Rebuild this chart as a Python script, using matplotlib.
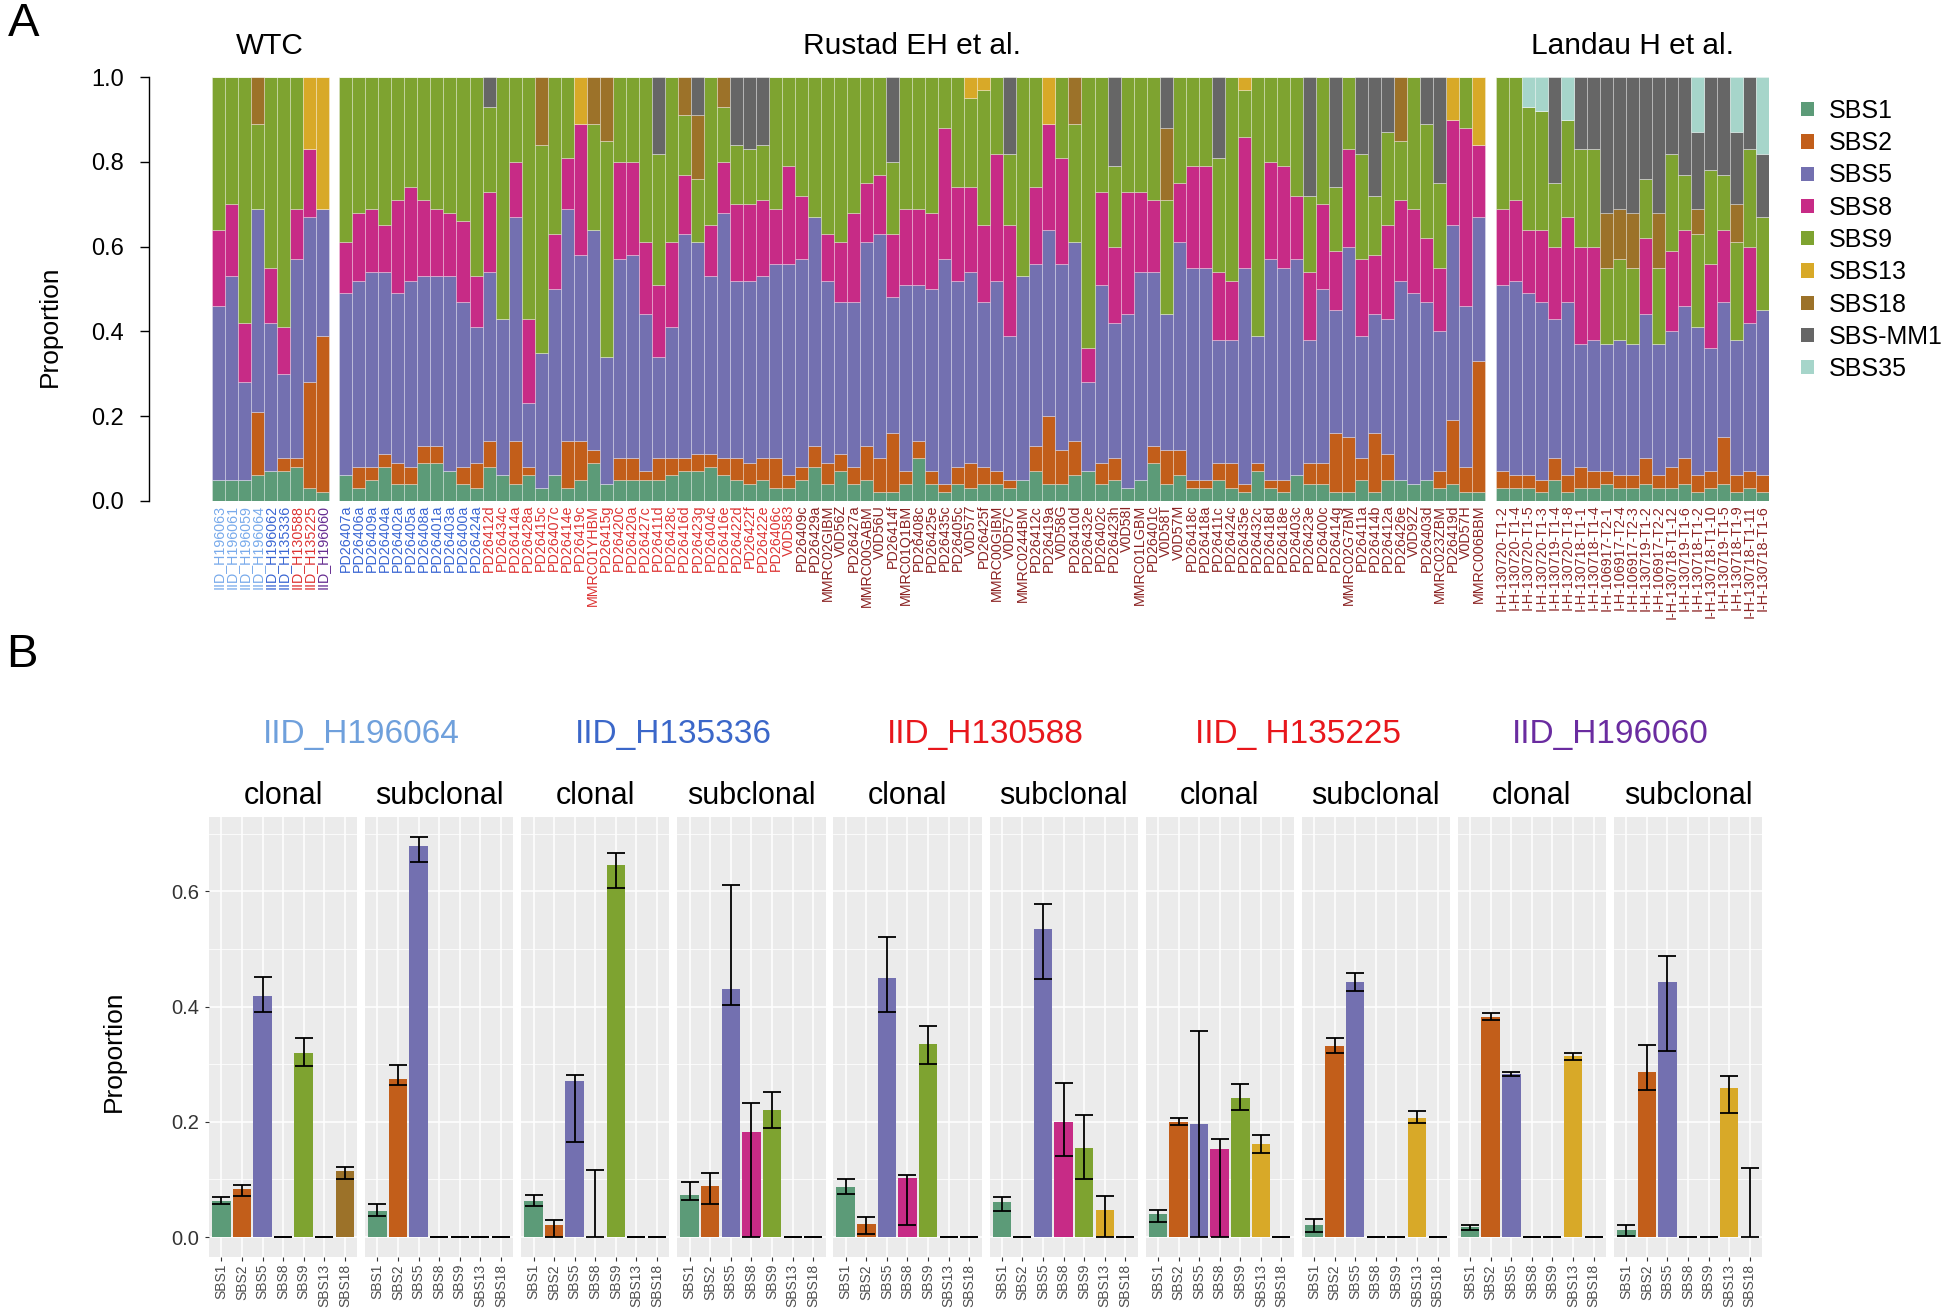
import matplotlib.pyplot as plt
import matplotlib.transforms as mtransforms
from matplotlib.patches import Patch
import numpy as np

plt.rcParams['font.family'] = ['Liberation Sans', 'DejaVu Sans']

W, H = 1950, 1313

sig_names = ['SBS1', 'SBS2', 'SBS5', 'SBS8', 'SBS9', 'SBS13', 'SBS18', 'SBS-MM1', 'SBS35']
sig_colors = ['#5C9B78', '#C25E1A', '#7370B0', '#C72B86', '#7EA330',
              '#D8A928', '#9C7229', '#666666', '#A6D5CA']

# ---------------- panel A data ----------------
wtc_samples = ['IID_H196063', 'IID_H196061', 'IID_H196059', 'IID_H196064', 'IID_H196062',
               'IID_H135336', 'IID_H130588', 'IID_H135225', 'IID_H196060']
rustad_samples = [
    'PD26407a', 'PD26406a', 'PD26409a', 'PD26404a', 'PD26402a', 'PD26405a', 'PD26408a',
    'PD26401a', 'PD26403a', 'PD26400a', 'PD26424a',
    'PD26412d', 'PD26434c', 'PD26414a', 'PD26428a', 'PD26415c', 'PD26407c', 'PD26414e',
    'PD26419c', 'MMRC01YHBM', 'PD26415g', 'PD26420c', 'PD26420a', 'PD26427c', 'PD26411d',
    'PD26428c', 'PD26416d', 'PD26423g', 'PD26404c', 'PD26416e', 'PD26422d', 'PD26422f',
    'PD26422e', 'PD26406c', 'V0D583',
    'PD26409c', 'PD26429a', 'MMRC02GIBM', 'V0D56Z', 'PD26427a', 'MMRC00GABM', 'V0D56U',
    'PD26414f', 'MMRC01Q1BM', 'PD26408c', 'PD26425e', 'PD26435c', 'PD26405c', 'V0D577',
    'PD26425f', 'MMRC00GIBM', 'V0D57C', 'MMRC0244BM', 'PD26412c', 'PD26419a', 'V0D58G',
    'PD26410d', 'PD26432e', 'PD26402c', 'PD26423h', 'V0D58I', 'MMRC01LGBM', 'PD26401c',
    'V0D58T', 'V0D57M', 'PD26418c', 'PD26418a', 'PD26411c', 'PD26424c', 'PD26435e',
    'PD26432c', 'PD26418d', 'PD26418e', 'PD26403c', 'PD26423e', 'PD26400c', 'PD26414g',
    'MMRC02G7BM', 'PD26411a', 'PD26414b', 'PD26412a', 'PD26426e', 'V0D92Z', 'PD26403d',
    'MMRC023ZBM', 'PD26419d', 'V0D57H', 'MMRC006BBM']
landau_samples = [
    'I-H-130720-T1-2', 'I-H-130720-T1-4', 'I-H-130720-T1-5', 'I-H-130720-T1-3',
    'I-H-130719-T1-4', 'I-H-130720-T1-8', 'I-H-130718-T1-1', 'I-H-130718-T1-4',
    'I-H-106917-T2-1', 'I-H-106917-T2-4', 'I-H-106917-T2-3', 'I-H-130719-T1-2',
    'I-H-106917-T2-2', 'I-H-130718-T1-12', 'I-H-130719-T1-6', 'I-H-130718-T1-2',
    'I-H-130718-T1-10', 'I-H-130719-T1-5', 'I-H-130718-T1-9', 'I-H-130718-T1-11',
    'I-H-130718-T1-6']

# proportions per signature: 9 WTC, 88 Rustad, 21 Landau
sbs1 = [.05, .05, .05, .06, .07, .07, .08, .03, .02,
        .06, .03, .05, .08, .04, .04, .09, .09, .07, .04,
        .03, .08, .06, .04, .06, .03, .06, .03, .05, .09,
        .04, .05, .05, .05, .05, .06, .07, .07, .08, .06,
        .05, .04, .05, .03, .03, .05, .08, .04, .07, .04,
        .05, .02, .02, .04, .10, .04, .02, .04, .03, .04,
        .04, .03, .05, .07, .04, .04, .06, .07, .04, .05,
        .03, .05, .09, .04, .06, .03, .03, .05, .03, .02,
        .07, .03, .02, .06, .04, .04, .02, .02, .05, .02,
        .05, .05, .04, .05, .03, .04, .02, .02,
        .03, .03, .03, .02, .05, .02, .03, .03, .04, .03,
        .03, .04, .03, .03, .04, .02, .03, .04, .02, .03, .02]
sbs2 = [0, 0, 0, .15, 0, .03, .02, .25, .37,
        0, .05, .03, .03, .05, .04, .04, .04, 0, .04,
        .06, .06, 0, .10, .02, 0, 0, .11, .09, .03,
        0, .05, .05, .02, .05, .04, .03, .04, .03, .04,
        .05, .05, .05, .07, .03, .03, .05, .05, .04, .04,
        .08, .08, .14, .03, .04, .03, .02, .04, .06, .04,
        .03, .02, 0, .06, .16, .08, .08, 0, .05, .05,
        0, 0, .04, .08, .06, .02, .02, .04, .06, .02,
        .02, .02, .03, 0, .05, .05, .14, .13, .05, .14,
        .06, 0, 0, 0, .04, .15, .06, .31,
        .04, .03, .03, .03, .05, .04, .05, .04, .03, .03,
        .03, .06, .03, .05, .06, .04, .04, .11, .04, .04, .04]
sbs5 = [.41, .48, .23, .48, .35, .20, .47, .39, .30,
        .43, .44, .46, .43, .40, .44, .40, .40, .46, .39,
        .32, .40, .37, .53, .15, .32, .44, .55, .44, .52,
        .30, .47, .48, .37, .24, .31, .53, .50, .42, .58,
        .42, .43, .43, .46, .50, .49, .54, .43, .36, .39,
        .48, .53, .32, .44, .37, .43, .53, .44, .45, .39,
        .45, .34, .48, .43, .44, .44, .47, .21, .42, .32,
        .41, .49, .41, .32, .49, .50, .50, .29, .29, .51,
        .30, .52, .50, .51, .29, .41, .29, .45, .29, .28,
        .32, .47, .45, .42, .33, .46, .38, .34,
        .44, .46, .43, .42, .33, .41, .29, .31, .30, .32,
        .31, .34, .31, .32, .36, .35, .29, .32, .32, .35, .39]
sbs8 = [.18, .17, .14, 0, .13, .11, .12, .16, 0,
        .12, .16, .15, .11, .22, .22, .18, .16, .15, .19,
        .12, .19, 0, .13, .20, 0, .13, .12, .31, 0,
        0, .23, .22, .17, .17, .20, .14, 0, .12, .12,
        .18, .18, .18, .13, .23, .15, 0, .11, .14, .21,
        .14, .14, .15, .18, .18, .18, .31, .22, .20, .18,
        .30, .26, 0, .18, .25, .25, 0, .08, .22, .18,
        .29, .19, .17, 0, .14, .24, .24, .16, .14, .31,
        0, .23, .24, .15, .16, .20, .14, .23, .18, .14,
        .22, .19, .20, .15, .15, .25, .42, .17,
        .18, .19, .15, .17, .17, .20, .23, .22, 0, 0,
        0, .18, 0, .19, .18, 0, .20, .17, 0, .18, 0]
sbs9 = [.36, .30, .58, .20, .45, .59, .31, 0, 0,
        .39, .32, .31, .35, .29, .26, .29, .31, .32, .34,
        .47, .20, .57, .20, .57, .49, .37, .19, 0, .25,
        .51, .20, .20, .39, .31, .39, .14, .15, .35, .13,
        .14, .13, .13, .31, .21, .28, .33, .37, .39, .32,
        .25, .23, .17, .31, .31, .32, .12, .26, .21, .32,
        .18, .17, .47, .26, 0, .19, .28, .64, .27, .19,
        .27, .27, .29, .27, .25, .21, .21, .27, .48, .11,
        .61, .20, .21, .28, .18, .30, .15, .17, .25, .14,
        .22, .14, .31, .27, .20, 0, .12, 0,
        .31, .29, .29, .28, .15, .23, .23, .23, .18, .19,
        .18, .14, .18, .23, .13, .22, .22, .13, .23, .23, .22]
sbs13 = [0, 0, 0, 0, 0, 0, 0, .17, .31,
         0, 0, 0, 0, 0, 0, 0, 0, 0, 0,
         0, 0, 0, 0, 0, 0, 0, 0, .11, 0,
         0, 0, 0, 0, 0, 0, 0, 0, 0, 0,
         0, 0, 0, 0, 0, 0, 0, 0, 0, 0,
         0, 0, 0, 0, 0, 0, 0, 0, .05, .03,
         0, 0, 0, 0, .11, 0, 0, 0, 0, 0,
         0, 0, 0, 0, 0, 0, 0, 0, 0, .03,
         0, 0, 0, 0, 0, 0, 0, 0, 0, 0,
         0, 0, 0, 0, 0, .10, 0, .16,
         0, 0, 0, 0, 0, 0, 0, 0, 0, 0,
         0, 0, 0, 0, 0, 0, 0, 0, 0, 0, 0]
sbs18 = [0, 0, 0, .11, 0, 0, 0, 0, 0,
         0, 0, 0, 0, 0, 0, 0, 0, 0, 0,
         0, 0, 0, 0, 0, .16, 0, 0, 0, .11,
         .15, 0, 0, 0, 0, 0, .09, .15, 0, .07,
         0, 0, 0, 0, 0, 0, 0, 0, 0, 0,
         0, 0, 0, 0, 0, 0, 0, 0, 0, 0,
         0, 0, 0, 0, 0, 0, .11, 0, 0, 0,
         0, 0, 0, .17, 0, 0, 0, 0, 0, 0,
         0, 0, 0, 0, 0, 0, 0, 0, 0, 0,
         0, .15, 0, 0, 0, 0, 0, 0,
         0, 0, 0, 0, 0, 0, 0, 0, .13, .12,
         .13, 0, .13, 0, 0, .06, 0, 0, .09, 0, 0]
sbs_mm1 = [0, 0, 0, 0, 0, 0, 0, 0, 0,
           0, 0, 0, 0, 0, 0, 0, 0, 0, 0,
           0, .07, 0, 0, 0, 0, 0, 0, 0, 0,
           0, 0, 0, 0, .18, 0, 0, .09, 0, 0,
           .16, .17, .16, 0, 0, 0, 0, 0, 0, 0,
           0, 0, .20, 0, 0, 0, 0, 0, 0, 0,
           0, .18, 0, 0, 0, 0, 0, 0, 0, .21,
           0, 0, 0, .12, 0, 0, 0, .19, 0, 0,
           0, 0, 0, 0, .28, 0, .26, 0, .18, .28,
           .13, 0, 0, .11, .25, 0, 0, 0,
           0, 0, 0, 0, .25, 0, .17, .17, .32, .31,
           .32, .24, .32, .18, .23, .18, .22, .23, .17, .17, .15]
sbs35 = [0, 0, 0, 0, 0, 0, 0, 0, 0,
         0, 0, 0, 0, 0, 0, 0, 0, 0, 0,
         0, 0, 0, 0, 0, 0, 0, 0, 0, 0,
         0, 0, 0, 0, 0, 0, 0, 0, 0, 0,
         0, 0, 0, 0, 0, 0, 0, 0, 0, 0,
         0, 0, 0, 0, 0, 0, 0, 0, 0, 0,
         0, 0, 0, 0, 0, 0, 0, 0, 0, 0,
         0, 0, 0, 0, 0, 0, 0, 0, 0, 0,
         0, 0, 0, 0, 0, 0, 0, 0, 0, 0,
         0, 0, 0, 0, 0, 0, 0, 0,
         0, 0, .07, .08, 0, .10, 0, 0, 0, 0,
         0, 0, 0, 0, 0, .13, 0, 0, .13, 0, .18]

# ---------------- panel B data ----------------
b_sigs = ['SBS1', 'SBS2', 'SBS5', 'SBS8', 'SBS9', 'SBS13', 'SBS18']
b_samples = ['IID_H196064', 'IID_H135336', 'IID_H130588', 'IID_ H135225', 'IID_H196060']

h196064_clonal = [.062, .084, .418, 0, .319, 0, .114]
h196064_clonal_lo = [.058, .071, .391, 0, .296, 0, .101]
h196064_clonal_hi = [.069, .091, .451, 0, .346, 0, .121]
h196064_sub = [.046, .275, .679, 0, 0, 0, 0]
h196064_sub_lo = [.036, .264, .651, 0, 0, 0, 0]
h196064_sub_hi = [.058, .299, .694, 0, 0, 0, 0]

h135336_clonal = [.062, .021, .270, 0, .645, 0, 0]
h135336_clonal_lo = [.054, 0, .165, 0, .605, 0, 0]
h135336_clonal_hi = [.073, .029, .282, .117, .667, 0, 0]
h135336_sub = [.073, .089, .431, .182, .220, 0, 0]
h135336_sub_lo = [.065, .057, .403, 0, .190, 0, 0]
h135336_sub_hi = [.095, .111, .611, .232, .252, 0, 0]

h130588_clonal = [.086, .022, .450, .103, .335, 0, 0]
h130588_clonal_lo = [.075, .005, .390, .020, .300, 0, 0]
h130588_clonal_hi = [.100, .035, .520, .107, .367, 0, 0]
h130588_sub = [.060, 0, .535, .200, .155, .047, 0]
h130588_sub_lo = [.045, 0, .447, .140, .100, 0, 0]
h130588_sub_hi = [.070, 0, .578, .268, .212, .072, 0]

h135225_clonal = [.040, .200, .197, .152, .242, .162, 0]
h135225_clonal_lo = [.026, .195, 0, 0, .220, .145, 0]
h135225_clonal_hi = [.047, .207, .358, .170, .265, .177, 0]
h135225_sub = [.020, .332, .442, 0, 0, .207, 0]
h135225_sub_lo = [.008, .320, .427, 0, 0, .198, 0]
h135225_sub_hi = [.032, .345, .458, 0, 0, .218, 0]

h196060_clonal = [.017, .382, .283, 0, 0, .315, 0]
h196060_clonal_lo = [.013, .376, .279, 0, 0, .308, 0]
h196060_clonal_hi = [.021, .388, .287, 0, 0, .320, 0]
h196060_sub = [.012, .287, .442, 0, 0, .259, 0]
h196060_sub_lo = [.002, .255, .322, 0, 0, .215, 0]
h196060_sub_hi = [.020, .333, .488, 0, 0, .280, .120]

# ---------------- figure ----------------
fig = plt.figure(figsize=(W / 100, H / 100), dpi=100)

# panel A
axA = fig.add_axes([211.7 / W, 1 - 500.7 / H, (1769 - 211.7) / W, (500.7 - 77.3) / H])
n_w, n_r, n_l = len(wtc_samples), len(rustad_samples), len(landau_samples)
gap = 0.8
xpos = np.concatenate([np.arange(n_w),
                       n_w + gap + np.arange(n_r),
                       n_w + n_r + 2 * gap + np.arange(n_l)]) + 0.5

series = [sbs1, sbs2, sbs5, sbs8, sbs9, sbs13, sbs18, sbs_mm1, sbs35]
bottom = np.zeros(len(xpos))
for vals, col in zip(series, sig_colors):
    vals = np.array(vals, dtype=float)
    axA.bar(xpos, vals, width=1.0, bottom=bottom, color=col,
            edgecolor=(1, 1, 1, 0.35), linewidth=0.6)
    bottom += vals

axA.set_xlim(0, xpos[-1] + 0.5)
axA.set_ylim(0, 1)
for s in ['top', 'right', 'bottom']:
    axA.spines[s].set_visible(False)
axA.spines['left'].set_position(('outward', 45))
axA.spines['left'].set_linewidth(1.0)
axA.set_yticks([0, 0.2, 0.4, 0.6, 0.8, 1.0])
axA.set_yticklabels(['0.0', '0.2', '0.4', '0.6', '0.8', '1.0'])
axA.tick_params(axis='y', labelsize=17, length=6.5, width=1.0, pad=12)

all_samples = wtc_samples + rustad_samples + landau_samples
axA.set_xticks(xpos)
axA.set_xticklabels(all_samples, rotation=90, fontsize=10.3)
axA.tick_params(axis='x', length=0, pad=3)
label_cols = (['#78AAEB'] * 4 + ['#3A66D3'] * 2 + ['#DD3333'] * 2 + ['#662D91']
              + ['#3A66D3'] * 11 + ['#DD3333'] * 24 + ['#8B2323'] * 53
              + ['#8B2323'] * n_l)
for lab, c in zip(axA.get_xticklabels(), label_cols):
    lab.set_color(c)

trA = mtransforms.blended_transform_factory(axA.transData, axA.transAxes)
group_titles = ['WTC', 'Rustad EH et al.', 'Landau H et al.']
group_centres = [n_w / 2, n_w + gap + n_r / 2, n_w + n_r + 2 * gap + n_l / 2]
for t, xc in zip(group_titles, group_centres):
    axA.text(xc, 1.075, t, transform=trA, ha='center', va='center', fontsize=21.5)

fig.text(50 / W, 1 - 326 / H, 'Proportion', rotation=90, ha='center', va='center', fontsize=19)

handles = [Patch(facecolor=c, edgecolor='none') for c in sig_colors]
fig.legend(handles, sig_names, loc='upper left', bbox_to_anchor=(1801 / W, 1 - 99 / H),
           frameon=False, fontsize=18, handlelength=0.5, handleheight=0.5,
           handletextpad=0.6, labelspacing=0.33, borderpad=0, borderaxespad=0)

fig.text(24 / W, 1 - 24 / H, 'A', fontsize=34, ha='center', va='center')
fig.text(22 / W, 1 - 655 / H, 'B', fontsize=34, ha='center', va='center')

# panel B
facet_vals = [h196064_clonal, h196064_sub, h135336_clonal, h135336_sub,
              h130588_clonal, h130588_sub, h135225_clonal, h135225_sub,
              h196060_clonal, h196060_sub]
facet_lo = [h196064_clonal_lo, h196064_sub_lo, h135336_clonal_lo, h135336_sub_lo,
            h130588_clonal_lo, h130588_sub_lo, h135225_clonal_lo, h135225_sub_lo,
            h196060_clonal_lo, h196060_sub_lo]
facet_hi = [h196064_clonal_hi, h196064_sub_hi, h135336_clonal_hi, h135336_sub_hi,
            h130588_clonal_hi, h130588_sub_hi, h135225_clonal_hi, h135225_sub_hi,
            h196060_clonal_hi, h196060_sub_hi]
title_cols = ['#6FA0DC', '#3B67C9', '#E8171C', '#E8171C', '#6A2CA0']
b_cols = sig_colors[:7]

pw, pg = 148.2, 7.9
top_px, bot_px = 817, 1257
xb = np.arange(1, len(b_sigs) + 1)
for i in range(10):
    left = 209 + i * (pw + pg)
    ax = fig.add_axes([left / W, 1 - bot_px / H, pw / W, (bot_px - top_px) / H])
    ax.set_facecolor('#EBEBEB')
    ax.set_axisbelow(True)
    v = np.array(facet_vals[i])
    lo = np.array(facet_lo[i])
    hi = np.array(facet_hi[i])
    ax.bar(xb, v, width=0.9, color=b_cols)
    ax.errorbar(xb, v, yerr=[v - lo, hi - v], fmt='none', ecolor='black',
                elinewidth=1.3, capsize=6.6, capthick=1.3)
    ax.set_xlim(0.4, 7.6)
    ax.set_ylim(-0.0347, 0.729)
    ax.set_yticks([0, 0.2, 0.4, 0.6])
    ax.set_yticks([0.1, 0.3, 0.5, 0.7], minor=True)
    ax.set_xticks(xb)
    ax.set_xticklabels(b_sigs, rotation=90, fontsize=10, color='#4D4D4D')
    ax.grid(True, which='major', color='white', linewidth=1.1)
    ax.grid(True, which='minor', axis='y', color='white', linewidth=0.55)
    for s in ax.spines.values():
        s.set_visible(False)
    ax.tick_params(axis='x', length=3, width=0.8, color='#333333', pad=2)
    ax.tick_params(axis='y', which='minor', length=0)
    if i == 0:
        ax.set_yticklabels(['0.0', '0.2', '0.4', '0.6'])
        ax.tick_params(axis='y', labelsize=14.5, labelcolor='#333333', length=3,
                       width=0.8, color='#333333', pad=4)
    else:
        ax.tick_params(axis='y', which='both', length=0, labelleft=False)
    ax.text(0.5, 1 + (817 - 796) / (bot_px - top_px), 'clonal' if i % 2 == 0 else 'subclonal',
            transform=ax.transAxes, ha='center', va='center', fontsize=22)
    if i % 2 == 0:
        xc = (left + pw + pg / 2) / W
        fig.text(xc, 1 - 734 / H, b_samples[i // 2], color=title_cols[i // 2],
                 ha='center', va='center', fontsize=24)

fig.text(114 / W, 1 - 1051 / H, 'Proportion', rotation=90, ha='center', va='center', fontsize=19)

fig.savefig('out.png', dpi=100)
